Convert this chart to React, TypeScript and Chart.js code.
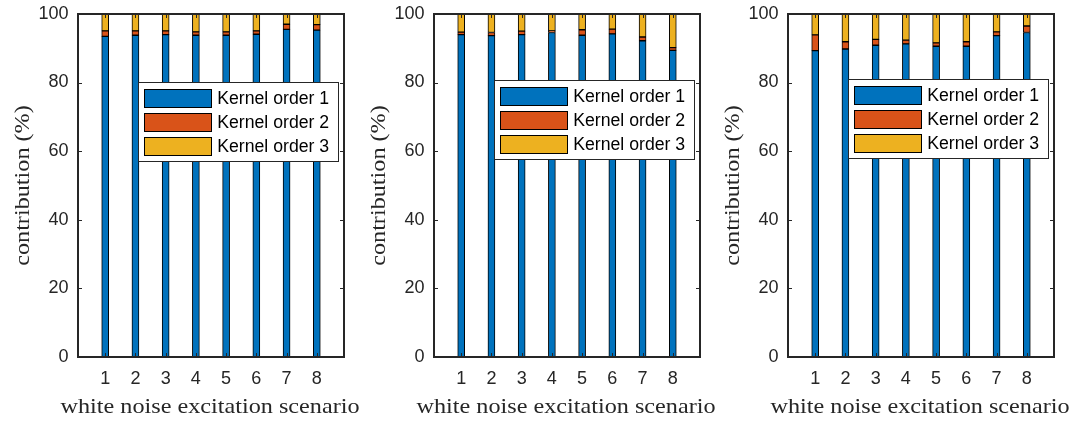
import React, { useEffect, useRef } from "react";
import { Chart, registerables } from "chart.js";

Chart.register(...registerables);

// ---------------- data ----------------
const scenarios = [1, 2, 3, 4, 5, 6, 7, 8];
const seriesLabels = ["Kernel order 1", "Kernel order 2", "Kernel order 3"];
const seriesColors = ["#0072BD", "#D95319", "#EDB120"];
const yTicks = [0, 20, 40, 60, 80, 100];
const xTitle = "white noise excitation scenario";
const yTitle = "contribution (%)";

const panel1Order1 = [93.5, 93.8, 94.0, 93.8, 93.8, 94.1, 95.5, 95.3];
const panel1Order2 = [1.6, 1.3, 1.1, 1.0, 1.0, 1.0, 1.5, 1.6];
const panel1Order3 = [4.9, 4.9, 4.9, 5.2, 5.2, 4.9, 3.0, 3.1];

const panel2Order1 = [94.0, 93.7, 94.0, 94.6, 93.8, 94.2, 92.2, 89.4];
const panel2Order2 = [0.7, 0.9, 1.0, 0.5, 1.6, 1.4, 1.1, 0.8];
const panel2Order3 = [5.3, 5.4, 5.0, 4.9, 4.6, 4.4, 6.7, 9.8];

const panel3Order1 = [89.3, 89.8, 90.9, 91.3, 90.6, 90.6, 93.7, 94.6];
const panel3Order2 = [4.6, 2.1, 1.7, 1.1, 1.0, 1.3, 1.1, 1.9];
const panel3Order3 = [6.1, 8.1, 7.4, 7.6, 8.4, 8.1, 5.2, 3.5];

const panels = [
  [panel1Order1, panel1Order2, panel1Order3],
  [panel2Order1, panel2Order2, panel2Order3],
  [panel3Order1, panel3Order2, panel3Order3],
];

// ---------------- layout ----------------
const CANVAS_W = 372;
const CANVAS_H = 421;
const AXIS_W = 78;
const PLOT_W = 266;
const PLOT_TOP = 14;
const X_AXIS_H = 64;
const panelOffsets = [0, 356, 710];
const legendTops = [68, 66, 65];

const AXIS_COLOR = "#262626";
const SANS = '"Liberation Sans", Arial, sans-serif';
const SERIF = '"Liberation Serif", "Times New Roman", serif';

function drawText(
  ctx: CanvasRenderingContext2D,
  s: string,
  x: number,
  y: number,
  font: string,
  align: CanvasTextAlign,
  baseline: CanvasTextBaseline,
  sx: number,
  color: string,
  rot = 0
) {
  ctx.save();
  ctx.translate(x, y);
  if (rot) ctx.rotate(rot);
  ctx.scale(sx, 1);
  ctx.font = font;
  ctx.textAlign = align;
  ctx.textBaseline = baseline;
  ctx.fillStyle = color;
  ctx.fillText(s, 0, 0);
  ctx.restore();
}

const decorPlugin = {
  id: "decor",
  afterDraw(chart: any, _args: any, opts: any) {
    const { ctx, chartArea: a, scales } = chart;
    const xs = scales.x;
    const ys = scales.y;
    ctx.save();

    // inward ticks
    ctx.strokeStyle = AXIS_COLOR;
    ctx.lineWidth = 1;
    const tl = 4;
    ctx.beginPath();
    for (const t of ys.ticks) {
      const y = Math.round(ys.getPixelForValue(t.value)) + 0.5;
      ctx.moveTo(a.left, y);
      ctx.lineTo(a.left + tl, y);
      ctx.moveTo(a.right, y);
      ctx.lineTo(a.right - tl, y);
    }
    for (const t of xs.ticks) {
      const x = Math.round(xs.getPixelForValue(t.value)) + 0.5;
      ctx.moveTo(x, a.bottom);
      ctx.lineTo(x, a.bottom - tl);
      ctx.moveTo(x, a.top);
      ctx.lineTo(x, a.top + tl);
    }
    ctx.stroke();

    // frame
    ctx.lineWidth = 2;
    ctx.strokeRect(a.left, a.top, a.right - a.left, a.bottom - a.top);

    // tick labels
    const tickFont = `17.5px ${SANS}`;
    for (const t of ys.ticks) {
      drawText(ctx, String(t.value), a.left - 9.5, ys.getPixelForValue(t.value), tickFont, "right", "middle", 1.03, AXIS_COLOR);
    }
    for (const t of xs.ticks) {
      drawText(ctx, String(t.value), xs.getPixelForValue(t.value), a.bottom + 22, tickFont, "center", "middle", 1.03, AXIS_COLOR);
    }

    // axis titles
    const titleFont = `22px ${SERIF}`;
    drawText(ctx, xTitle, (a.left + a.right) / 2 - 1, a.bottom + 56.3, titleFont, "center", "alphabetic", 1.1, AXIS_COLOR);
    drawText(ctx, yTitle, a.left - 49, (a.top + a.bottom) / 2, titleFont, "center", "alphabetic", 1.1, AXIS_COLOR, -Math.PI / 2);

    // legend
    const boxW = 200;
    const boxH = 79;
    const bx = Math.round(a.right - 6.5 - boxW) + 0.5;
    const by = Math.round(a.top + opts.legendTop) + 0.5;
    ctx.fillStyle = "#ffffff";
    ctx.fillRect(bx, by, boxW, boxH);
    ctx.lineWidth = 1;
    ctx.strokeStyle = AXIS_COLOR;
    ctx.strokeRect(bx, by, boxW, boxH);
    chart.data.datasets.forEach((ds: any, i: number) => {
      const sx = bx + 6;
      const sy = Math.round(by + 6 + i * 24.3) + 0.5;
      ctx.fillStyle = ds.backgroundColor;
      ctx.fillRect(sx, sy, 67, 18);
      ctx.strokeStyle = "#000";
      ctx.strokeRect(sx, sy, 67, 18);
      drawText(ctx, ds.label, bx + 78.7, sy + 9.5, `17.5px ${SANS}`, "left", "middle", 1.01, "#000");
    });

    ctx.restore();
  },
};

function makeConfig(series: number[][], idx: number): any {
  return {
    type: "bar",
    data: {
      datasets: series.map((vals, k) => ({
        label: seriesLabels[k],
        data: scenarios.map((s, i) => ({ x: s, y: vals[i] })),
        backgroundColor: seriesColors[k],
        borderColor: "#000000",
        borderWidth: 1,
        borderSkipped: false,
        barThickness: 7,
      })),
    },
    options: {
      animation: false,
      responsive: false,
      devicePixelRatio: 1,
      layout: { padding: { top: PLOT_TOP, right: CANVAS_W - AXIS_W - PLOT_W, bottom: 0, left: 0 } },
      plugins: {
        legend: { display: false },
        tooltip: { enabled: false },
        decor: { legendTop: legendTops[idx] },
      },
      scales: {
        x: {
          type: "linear",
          min: 0.1,
          max: 8.9,
          offset: false,
          stacked: true,
          grid: { display: false, drawTicks: false },
          border: { display: false },
          ticks: { display: false },
          afterBuildTicks: (s: any) => {
            s.ticks = scenarios.map((v) => ({ value: v }));
          },
          afterFit: (s: any) => {
            s.height = X_AXIS_H;
          },
        },
        y: {
          type: "linear",
          min: 0,
          max: 100,
          stacked: true,
          grid: { display: false, drawTicks: false },
          border: { display: false },
          ticks: { display: false },
          afterBuildTicks: (s: any) => {
            s.ticks = yTicks.map((v) => ({ value: v }));
          },
          afterFit: (s: any) => {
            s.width = AXIS_W;
          },
        },
      },
    },
    plugins: [decorPlugin],
  };
}

export default function App() {
  const r0 = useRef<HTMLCanvasElement | null>(null);
  const r1 = useRef<HTMLCanvasElement | null>(null);
  const r2 = useRef<HTMLCanvasElement | null>(null);
  const refs = [r0, r1, r2];

  useEffect(() => {
    const charts = panels.map((p, i) => new Chart(refs[i].current as HTMLCanvasElement, makeConfig(p, i)));
    return () => charts.forEach((c) => c.destroy());
  }, []);

  return (
    <div
      style={{
        position: "fixed",
        left: 0,
        top: 0,
        width: 1079,
        height: 421,
        overflow: "hidden",
        background: "#ffffff",
      }}
    >
      {refs.map((r, i) => (
        <canvas
          key={i}
          ref={r}
          width={CANVAS_W}
          height={CANVAS_H}
          style={{ position: "absolute", left: panelOffsets[i], top: 0 }}
        />
      ))}
    </div>
  );
}
